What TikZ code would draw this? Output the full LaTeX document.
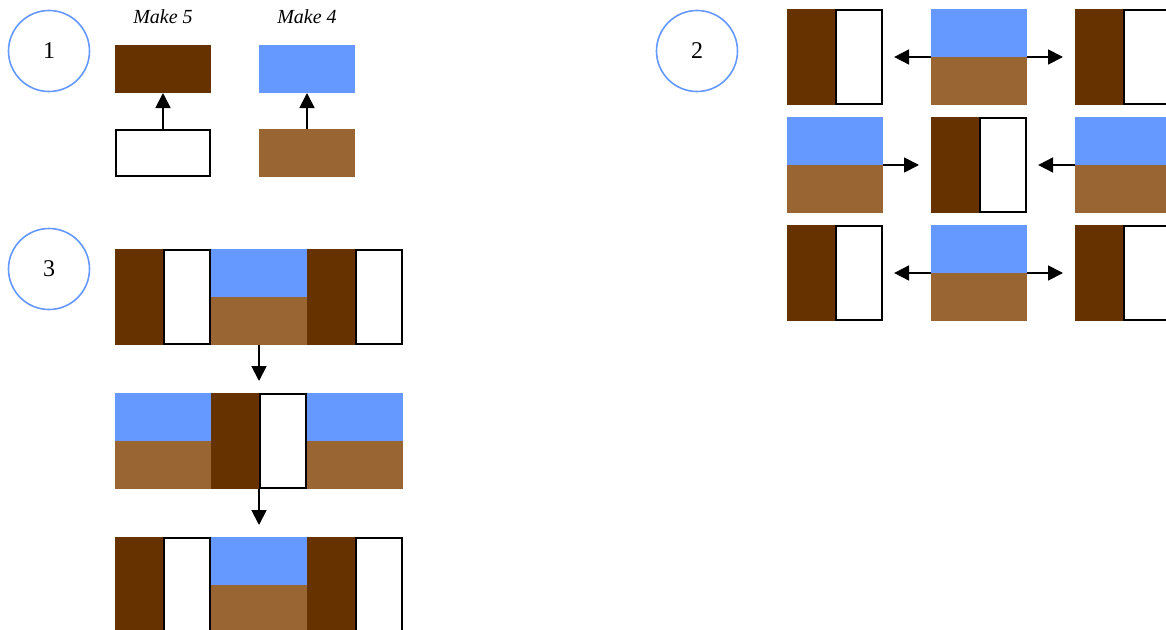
\documentclass[tikz,border=0pt]{standalone}
\usepackage{fontspec}
\setmainfont{Liberation Serif}
\usetikzlibrary{arrows.meta}
\definecolor{dkbrown}{HTML}{663300}
\definecolor{ltbrown}{HTML}{996633}
\definecolor{skyblue}{HTML}{6699FF}
\begin{document}
\begin{tikzpicture}[x=1pt,y=-1pt,
  blk/.style={inner sep=0pt,outer sep=0pt,anchor=north west},
  dk/.style={blk,fill=dkbrown,minimum width=48pt,minimum height=96pt},
  wh/.style={blk,fill=white,draw=black,line width=1.8pt,minimum width=46.2pt,minimum height=94.2pt},
  sky/.style={blk,fill=skyblue,minimum width=96pt,minimum height=48pt},
  soil/.style={blk,fill=ltbrown,minimum width=96pt,minimum height=48pt},
  circ/.style={circle,draw=skyblue,line width=1.6pt,minimum size=81pt,inner sep=0pt,font=\fontsize{24}{24}\selectfont},
  lbl/.style={font=\fontsize{20}{20}\selectfont\itshape},
  arr/.style={line width=1.8pt,-{Triangle[length=15pt,width=15pt]}},
]
\useasboundingbox (0,0) rectangle (1166,629);
% circles
\node[circ] (c1) at (49,51) {1};
\node[circ] (c2) at (697,51) {2};
\node[circ] (c3) at (49,269) {3};
% section 1
\node[lbl] (m5) at (163,17) {Make 5};
\node[lbl] (m4) at (307,17) {Make 4};
\node[blk,fill=dkbrown,minimum width=96pt,minimum height=48pt] (s1a) at (115,45) {};
\node[sky] (s1b) at (259,45) {};
\node[blk,fill=white,draw=black,line width=1.8pt,minimum width=94.2pt,minimum height=46.2pt] (s1c) at (115.9,129.9) {};
\node[soil] (s1d) at (259,129) {};
\draw[arr] (s1c.north) -- (s1a.south);
\draw[arr] (s1d.north) -- (s1b.south);
% section 3 row 1
\node[dk] (a1) at (115,249) {};
\node[wh] (a2) at (163.9,249.9) {};
\node[sky] (a3t) at (211,249) {};
\node[soil] (a3b) at (211,297) {};
\node[dk] (a4) at (307,249) {};
\node[wh] (a5) at (355.9,249.9) {};
% row 2
\node[sky] (b1t) at (115,393) {};
\node[soil] (b1b) at (115,441) {};
\node[dk] (b2) at (211,393) {};
\node[wh] (b3) at (259.9,393.9) {};
\node[sky] (b4t) at (307,393) {};
\node[soil] (b4b) at (307,441) {};
% row 3
\node[dk] (d1) at (115,537) {};
\node[wh] (d2) at (163.9,537.9) {};
\node[sky] (d3t) at (211,537) {};
\node[soil] (d3b) at (211,585) {};
\node[dk] (d4) at (307,537) {};
\node[wh] (d5) at (355.9,537.9) {};
\draw[arr,shorten >=12pt] (a3b.south) -- (a3b.south |- b2.north);
\draw[arr,shorten >=12pt] (d3t.north |- b2.south) -- (d3t.north);
% section 2 row 1
\node[dk] (e1) at (787,9) {};
\node[wh] (e2) at (835.9,9.9) {};
\node[sky] (e3t) at (931,9) {};
\node[soil] (e3b) at (931,57) {};
\node[dk] (e4) at (1075,9) {};
\node[wh] (e5) at (1123.9,9.9) {};
\draw[arr,shorten >=12pt] (e3t.south west) -- (e3t.south west -| e2.east);
\draw[arr,shorten >=12pt] (e3t.south east) -- (e4.west);
% row 2
\node[sky] (f1t) at (787,117) {};
\node[soil] (f1b) at (787,165) {};
\node[dk] (f2) at (931,117) {};
\node[wh] (f3) at (979.9,117.9) {};
\node[sky] (f4t) at (1075,117) {};
\node[soil] (f4b) at (1075,165) {};
\draw[arr,shorten >=12pt] (f1t.south east) -- (f2.west);
\draw[arr,shorten >=12pt] (f4t.south west) -- (f4t.south west -| f3.east);
% row 3
\node[dk] (g1) at (787,225) {};
\node[wh] (g2) at (835.9,225.9) {};
\node[sky] (g3t) at (931,225) {};
\node[soil] (g3b) at (931,273) {};
\node[dk] (g4) at (1075,225) {};
\node[wh] (g5) at (1123.9,225.9) {};
\draw[arr,shorten >=12pt] (g3t.south west) -- (g3t.south west -| g2.east);
\draw[arr,shorten >=12pt] (g3t.south east) -- (g4.west);
\end{tikzpicture}
\end{document}
